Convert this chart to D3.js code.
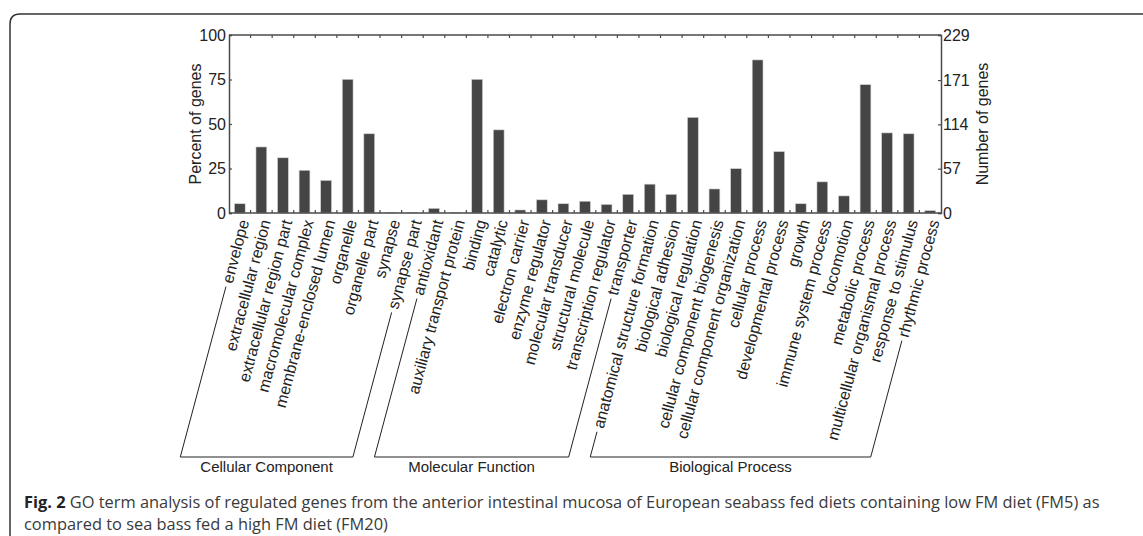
<!DOCTYPE html>
<html><head><meta charset="utf-8">
<script src="https://cdn.jsdelivr.net/npm/d3@7"></script>
<style>
body{margin:0;background:#fff;}
svg{display:block;}
</style></head>
<body>
<svg id="chart" width="1143" height="536"></svg>
<script>
// ---- data ----
const cellularComponent = ["envelope","extracellular region","extracellular region part","macromolecular complex","membrane-enclosed lumen","organelle","organelle part","synapse","synapse part"];
const cellularValues = [5.2,37.1,31.0,24.0,18.3,75.1,44.5,0.4,0.4];
const molecularFunction = ["antioxidant","auxiliary transport protein","binding","catalytic","electron carrier","enzyme regulator","molecular transducer","structural molecule","transcription regulator","transporter"];
const molecularValues = [2.6,0.4,75.1,46.7,1.7,7.4,5.2,6.6,4.8,10.5];
const biologicalProcess = ["anatomical structure formation","biological adhesion","biological regulation","cellular component biogenesis","cellular component organization","cellular process","developmental process","growth","immune system process","locomotion","metabolic process","multicellular organismal process","response to stimulus","rhythmic process"];
const biologicalValues = [16.2,10.5,53.7,13.5,24.9,86.0,34.5,5.2,17.5,9.6,72.1,45.0,44.5,1.3];
const groupNames = ["Cellular Component","Molecular Function","Biological Process"];
const percentTicks = [0,25,50,75,100];
const countTicks = [0,57,114,171,229];
const totalGenes = 229;
const captionBold = "Fig. 2";
const captionLine1 = " GO term analysis of regulated genes from the anterior intestinal mucosa of European seabass fed diets containing low FM diet (FM5) as";
const captionLine2 = "compared to sea bass fed a high FM diet (FM20)";

const groups = [
  {name: groupNames[0], cats: cellularComponent, vals: cellularValues},
  {name: groupNames[1], cats: molecularFunction, vals: molecularValues},
  {name: groupNames[2], cats: biologicalProcess, vals: biologicalValues}
];
const data = [];
groups.forEach(g => g.cats.forEach((c,i) => data.push({cat:c, val:g.vals[i], group:g.name})));

// ---- layout ----
const L = 229, R = 941, T = 35, B = 213;
const svg = d3.select("#chart");
const axisColor = "#4a4a4a";
const font = "'Liberation Sans', Arial, Helvetica, sans-serif";

// figure frame
svg.append("path")
  .attr("d", "M10,536 L10,24 Q10,14 20,14 L1143,14")
  .attr("fill","none").attr("stroke","#333").attr("stroke-width",1.5);

const x = d3.scaleBand().domain(data.map(d=>d.cat)).range([L,R]).padding(0);
const y = d3.scaleLinear().domain([0,100]).range([B,T]);
const y2 = d3.scaleLinear().domain([0,totalGenes]).range([B,T]);
const bw = x.bandwidth();

// bars
svg.append("g").selectAll("rect").data(data).join("rect")
  .attr("x", d => x(d.cat) + bw*0.25)
  .attr("width", bw*0.5)
  .attr("y", d => y(d.val))
  .attr("height", d => B - y(d.val))
  .attr("fill","#454545")
  .attr("stroke","#cfcfcf").attr("stroke-width",0.6);

// box lines
const boundaries = data.map(d => x(d.cat)).concat([R]);
svg.append("line").attr("x1",L).attr("x2",R).attr("y1",T).attr("y2",T).attr("stroke",axisColor).attr("stroke-width",1.5);
svg.append("line").attr("x1",L).attr("x2",R).attr("y1",B).attr("y2",B).attr("stroke",axisColor).attr("stroke-width",1.5);
svg.append("g").selectAll("line").data(boundaries.slice(1,-1)).join("line")
  .attr("x1",d=>d).attr("x2",d=>d).attr("y1",T).attr("y2",T+3)
  .attr("stroke",axisColor).attr("stroke-width",1.2);
svg.append("g").selectAll("line").data(boundaries.slice(1,-1)).join("line")
  .attr("x1",d=>d).attr("x2",d=>d).attr("y1",B).attr("y2",B-3)
  .attr("stroke",axisColor).attr("stroke-width",1.2);

// left axis
const gl = svg.append("g").attr("transform",`translate(${L},0)`)
  .call(d3.axisLeft(y).tickValues(percentTicks).tickSize(-3).tickPadding(3));
// right axis
const gr = svg.append("g").attr("transform",`translate(${R},0)`)
  .call(d3.axisRight(y2).tickValues(countTicks).tickSize(-3).tickPadding(2));
[gl,gr].forEach(g => {
  g.select(".domain").attr("stroke",axisColor).attr("stroke-width",1.5);
  g.selectAll(".tick line").attr("stroke",axisColor).attr("stroke-width",1.2);
  g.selectAll(".tick text").attr("font-family",font).attr("font-size",16).attr("fill","#222");
});

// axis titles
svg.append("text").attr("transform",`translate(201,${(T+B)/2}) rotate(-90)`)
  .attr("text-anchor","middle").attr("font-family",font).attr("font-size",16).attr("fill","#222")
  .text("Percent of genes");
svg.append("text").attr("transform",`translate(988,${(T+B)/2}) rotate(-90)`)
  .attr("text-anchor","middle").attr("font-family",font).attr("font-size",16).attr("fill","#222")
  .text("Number of genes");

// category labels
const ang = 75;
const rad = ang*Math.PI/180;
const dirX = -Math.cos(rad), dirY = Math.sin(rad);
const labels = svg.append("g").selectAll("text").data(data).join("text")
  .attr("transform", d => `translate(${x(d.cat)+bw/2+4},${B+7}) rotate(${-ang})`)
  .attr("text-anchor","end").attr("dy","0.35em")
  .attr("font-family",font).attr("font-size",16).attr("fill","#222")
  .text(d => d.cat);

// brackets
const bracketY = 457;
const lenOf = {};
labels.each(function(d){ lenOf[d.cat] = this.getComputedTextLength(); });
groups.forEach(g => {
  const ends = [g.cats[0], g.cats[g.cats.length-1]].map(c => {
    const ax = x(c)+bw/2+4, ay = B+7;
    const len = lenOf[c] + 4;
    const sx = ax + dirX*len, sy = ay + dirY*len;
    const t = (bracketY - sy)/dirY;
    return {sx, sy, ex: sx + dirX*t, ey: bracketY};
  });
  const p = d3.path();
  p.moveTo(ends[0].sx, ends[0].sy);
  p.lineTo(ends[0].ex, ends[0].ey);
  p.lineTo(ends[1].ex, ends[1].ey);
  p.lineTo(ends[1].sx, ends[1].sy);
  svg.append("path").attr("d", p.toString()).attr("fill","none").attr("stroke","#222").attr("stroke-width",1);
  svg.append("text").attr("x",(ends[0].ex+ends[1].ex)/2).attr("y",bracketY+15)
    .attr("text-anchor","middle").attr("font-family",font)
    .attr("font-size",15).attr("fill","#222").text(g.name);
});

// caption
const capFont = "'Open Sans', 'Noto Sans', sans-serif";
const cap = svg.append("text").attr("x",24).attr("y",508)
  .attr("font-family",capFont).attr("font-size",16.4).attr("fill","#3a3a3a");
cap.append("tspan").attr("font-weight","bold").attr("fill","#222").text(captionBold);
cap.append("tspan").text(captionLine1);
svg.append("text").attr("x",24).attr("y",530)
  .attr("font-family",capFont).attr("font-size",16.4).attr("fill","#3a3a3a")
  .text(captionLine2);
</script>
</body></html>
